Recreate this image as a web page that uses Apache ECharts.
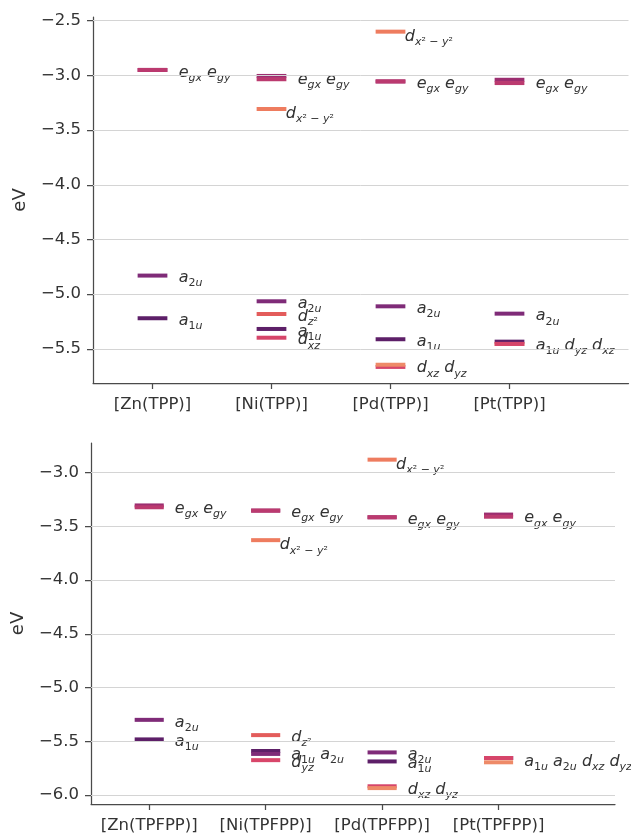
<!DOCTYPE html>
<html><head><meta charset="utf-8">
<script src="https://cdn.jsdelivr.net/npm/echarts@6/dist/echarts.min.js"></script>
<style>html,body{margin:0;padding:0;background:#fff}#c{width:631px;height:834px}</style>
</head><body><div id="c"></div>
<script>
// ---------- data ----------
const TOP_CATEGORIES = ['[Zn(TPP)]', '[Ni(TPP)]', '[Pd(TPP)]', '[Pt(TPP)]'];
const BOTTOM_CATEGORIES = ['[Zn(TPFPP)]', '[Ni(TPFPP)]', '[Pd(TPFPP)]', '[Pt(TPFPP)]'];
const TOP_TICKS = [-5.5, -5.0, -4.5, -4.0, -3.5, -3.0, -2.5];
const BOTTOM_TICKS = [-6.0, -5.5, -5.0, -4.5, -4.0, -3.5, -3.0];

// TPP complexes (orbital names and energies in eV)
const ZN_TPP_ORB = ['a1u', 'a2u', 'egx', 'egy'];
const ZN_TPP_E   = [-5.22, -4.83, -2.95, -2.95];
const NI_TPP_ORB = ['a1u', 'dxz', 'dz2', 'a2u', 'egx', 'egy', 'dx2y2'];
const NI_TPP_E   = [-5.318, -5.398, -5.181, -5.065, -3.005, -3.035, -3.307];
const PD_TPP_ORB = ['a1u', 'a2u', 'dxz', 'dyz', 'egx', 'egy', 'dx2y2'];
const PD_TPP_E   = [-5.412, -5.111, -5.665, -5.645, -3.055, -3.055, -2.60];
const PT_TPP_ORB = ['a1u', 'dyz', 'dxz', 'a2u', 'egx', 'egy'];
const PT_TPP_E   = [-5.434, -5.455, -5.455, -5.178, -3.04, -3.07];

// TPFPP complexes
const ZN_TPFPP_ORB = ['a1u', 'a2u', 'egx', 'egy'];
const ZN_TPFPP_E   = [-5.482, -5.30, -3.305, -3.322];
const NI_TPFPP_ORB = ['dz2', 'a1u', 'a2u', 'dyz', 'egx', 'egy', 'dx2y2'];
const NI_TPFPP_E   = [-5.442, -5.59, -5.617, -5.675, -3.353, -3.353, -3.628];
const PD_TPFPP_ORB = ['a2u', 'a1u', 'dxz', 'dyz', 'egx', 'egy', 'dx2y2'];
const PD_TPFPP_E   = [-5.603, -5.687, -5.918, -5.935, -3.415, -3.415, -2.879];
const PT_TPFPP_ORB = ['a1u', 'a2u', 'dxz', 'dyz', 'egx', 'egy'];
const PT_TPFPP_E   = [-5.655, -5.655, -5.655, -5.695, -3.39, -3.41];

// ---------- styles ----------
const FONT = 'DejaVu Sans';
const TEXT = '#333333';
const ORB_COLOR = {
  a1u: '#5d1f68', a2u: '#7f2b78', egx: '#9c2e70', egy: '#bb3a6f',
  dxz: '#d6456a', dyz: '#ee8a68', dz2: '#e35c5b', dx2y2: '#ee7c5f'
};
const COLOR_OVERRIDE = { 'b-1-dyz': '#d8466a' };
const ORB_RICH = {
  a1u: '{b|a}{r|1}{s|u}', a2u: '{b|a}{r|2}{s|u}',
  egx: '{b|e}{s|gx}', egy: '{b|e}{s|gy}',
  dxz: '{b|d}{s|xz}', dyz: '{b|d}{s|yz}',
  dz2: '{b|d}{s|z}{r|²}', dx2y2: '{b|d}{s|x}{r|² − }{s|y}{r|²}'
};
const RICH = {
  b: { fontFamily: FONT, fontStyle: 'italic', fontSize: 16, lineHeight: 16, verticalAlign: 'top', color: TEXT },
  s: { fontFamily: FONT, fontStyle: 'italic', fontSize: 11, lineHeight: 11, padding: [8, 0, 0, 0], verticalAlign: 'top', color: TEXT },
  r: { fontFamily: FONT, fontSize: 11, lineHeight: 11, padding: [8, 0, 0, 0], verticalAlign: 'top', color: TEXT }
};
const HALF = 0.125;
const LABEL_DY = 2.5;      // px shift of labels (matplotlib centres the whole math box)
const LABEL_DY_D = 5;      // d(x2-y2) labels sit a bit lower

function buildPanel(key, orbs, energies) {
  const levels = [], labels = [];
  orbs.forEach((list, ci) => {
    const items = list.map((o, k) => ({ cat: ci, orb: o, e: energies[ci][k], k }));
    items.forEach(it => levels.push({ cat: ci, e: it.e,
      color: COLOR_OVERRIDE[key + '-' + ci + '-' + it.orb] || ORB_COLOR[it.orb] }));
    const sorted = items.slice().sort((a, b) => b.e - a.e);
    const groups = [];
    sorted.forEach(it => {
      const g = groups[groups.length - 1];
      if (g && Math.abs(g[g.length - 1].e - it.e) < 0.05) g.push(it); else groups.push([it]);
    });
    groups.forEach(g => {
      g.sort((a, b) => a.k - b.k);
      const mean = g.reduce((s, it) => s + it.e, 0) / g.length;
      const onlyD = g.length === 1 && g[0].orb === 'dx2y2';
      labels.push({ x: ci + (onlyD ? 0.12 : 0.22), e: mean, d: onlyD,
        text: g.map(it => ORB_RICH[it.orb]).join('{b| }') });
    });
  });
  return { levels, labels };
}

const topPanel = buildPanel('t',
  [ZN_TPP_ORB, NI_TPP_ORB, PD_TPP_ORB, PT_TPP_ORB],
  [ZN_TPP_E, NI_TPP_E, PD_TPP_E, PT_TPP_E]);
const botPanel = buildPanel('b',
  [ZN_TPFPP_ORB, NI_TPFPP_ORB, PD_TPFPP_ORB, PT_TPFPP_ORB],
  [ZN_TPFPP_E, NI_TPFPP_E, PD_TPFPP_E, PT_TPFPP_E]);

const fmt = v => (v < 0 ? '\u2212' : '') + Math.abs(v).toFixed(1);
const AX = { color: '#4a4a4a', width: 1.25 };

function makeX(gi, cats) {
  return {
    type: 'value', gridIndex: gi, min: -0.5, max: 4,
    axisLine: { show: true, onZero: false, lineStyle: AX },
    axisTick: { show: true, customValues: [0, 1, 2, 3], length: 6, lineStyle: AX },
    axisLabel: { customValues: [0, 1, 2, 3], formatter: v => cats[Math.round(v)],
      fontFamily: FONT, fontSize: 16.5, color: TEXT, margin: 13 },
    splitLine: { show: false }
  };
}
function makeY(gi, min, max, ticks) {
  return {
    type: 'value', gridIndex: gi, min, max,
    name: 'eV', nameLocation: 'middle', nameGap: 64,
    nameTextStyle: { fontFamily: FONT, fontSize: 18, color: TEXT },
    axisLine: { show: true, onZero: false, lineStyle: AX },
    axisTick: { show: true, customValues: ticks, length: 6, lineStyle: AX },
    axisLabel: { customValues: ticks, formatter: fmt, fontFamily: FONT, fontSize: 16.5, color: TEXT, margin: 12 },
    splitLine: { show: false }
  };
}
function gridSeries(gi, ticks) {
  return {
    type: 'line', xAxisIndex: gi, yAxisIndex: gi, data: [], z: 1,
    markLine: { silent: true, symbol: ['none', 'none'], label: { show: false },
      lineStyle: { color: '#d4d4d4', width: 1, type: 'solid' },
      emphasis: { disabled: true },
      data: ticks.map(v => ({ yAxis: v })) }
  };
}
function levelSeries(gi, panel) {
  return {
    type: 'custom', xAxisIndex: gi, yAxisIndex: gi, z: 3,
    data: panel.levels.map(l => [l.cat, l.e]),
    encode: { x: 0, y: 1 },
    renderItem: (params, api) => {
      const lv = panel.levels[params.dataIndex];
      const p1 = api.coord([lv.cat - HALF, lv.e]);
      const p2 = api.coord([lv.cat + HALF, lv.e]);
      return { type: 'line', shape: { x1: p1[0], y1: p1[1], x2: p2[0], y2: p2[1] },
        style: { stroke: lv.color, lineWidth: 4 } };
    }
  };
}
function labelSeries(gi, panel) {
  return {
    type: 'custom', xAxisIndex: gi, yAxisIndex: gi, z: 4, clip: false,
    data: panel.labels.map(l => [l.x, l.e]),
    encode: { x: 0, y: 1 },
    renderItem: (params, api) => {
      const lb = panel.labels[params.dataIndex];
      const p = api.coord([lb.x, lb.e]);
      return { type: 'text', x: p[0], y: p[1] + (lb.d ? LABEL_DY_D : LABEL_DY),
        style: { text: lb.text, rich: RICH, align: 'left', verticalAlign: 'middle', fill: TEXT } };
    }
  };
}

const chart = echarts.init(document.getElementById('c'), null, { renderer: 'canvas' });
chart.setOption({
  animation: false,
  backgroundColor: '#ffffff',
  grid: [
    { left: 93, right: 2.5, top: 17, bottom: 451 },
    { left: 91, right: 16, top: 443, bottom: 29 }
  ],
  xAxis: [makeX(0, TOP_CATEGORIES), makeX(1, BOTTOM_CATEGORIES)],
  yAxis: [makeY(0, -5.812, -2.466, TOP_TICKS), makeY(1, -6.083, -2.724, BOTTOM_TICKS)],
  series: [
    gridSeries(0, TOP_TICKS), gridSeries(1, BOTTOM_TICKS),
    levelSeries(0, topPanel), levelSeries(1, botPanel),
    labelSeries(0, topPanel), labelSeries(1, botPanel)
  ]
});
</script></body></html>
